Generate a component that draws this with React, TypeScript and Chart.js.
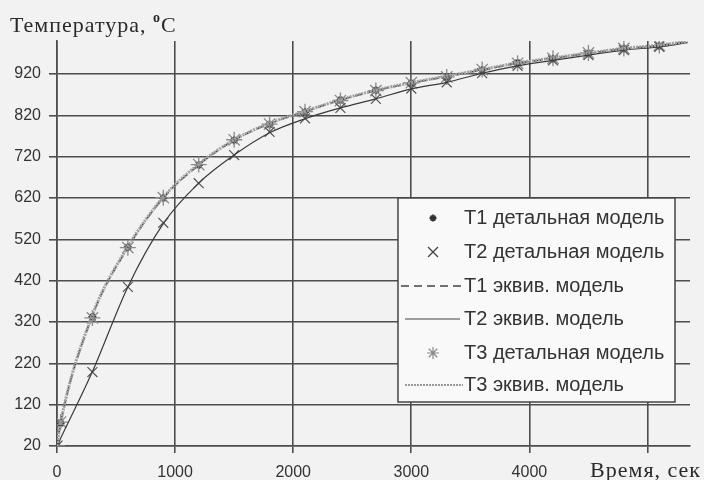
import React, { useEffect, useRef } from "react";
import { Chart, registerables } from "chart.js";

Chart.register(...registerables);

// ---- data ----
const timeEquiv = [0, 30, 300, 600, 900, 1200, 1500, 1800, 2100, 2400, 2700, 3000, 3300, 3600, 3900, 4200, 4500, 4800, 5100, 5340];
const t1Equiv = [20, 75, 335, 500, 620, 700, 760, 800, 829, 857, 880, 898, 914, 930, 946, 958, 970, 981, 989, 998];
const t2Equiv = [20, 38, 200, 405, 558, 656, 724, 778, 812, 838, 860, 884, 900, 922, 940, 953, 966, 978, 986, 996];
const t3Equiv = [20, 76, 337, 502, 622, 702, 761, 801, 830, 858, 881, 899, 915, 931, 947, 959, 971, 982, 990, 999];

const timeDetailed = [0, 30, 300, 600, 900, 1200, 1500, 1800, 2100, 2400, 2700, 3000, 3300, 3600, 3900, 4200, 4500, 4800, 5100];
const t1Detailed = [20, 75, 332, 501, 620, 700, 760, 798, 828, 857, 881, 898, 913, 930, 947, 957, 970, 982, 988];
const t3Detailed = [20, 78, 330, 500, 621, 701, 761, 799, 829, 856, 880, 899, 913, 931, 946, 958, 971, 982, 989];
const timeT2Detailed = [0, 300, 600, 900, 1200, 1500, 1800, 2100, 2400, 2700, 3000, 3300, 3600, 3900, 4200, 4500, 4800, 5100];
const t2Detailed = [20, 199, 405, 560, 656, 724, 780, 813, 838, 860, 885, 900, 922, 940, 953, 966, 978, 986];

const xTickValues = [0, 1000, 2000, 3000, 4000, 5000];
const yTickValues = [20, 120, 220, 320, 420, 520, 620, 720, 820, 920];

const legendLabels = [
  "Т1 детальная модель",
  "Т2 детальная модель",
  "Т1 эквив. модель",
  "Т2 эквив. модель",
  "Т3 детальная модель",
  "Т3 эквив. модель",
];
const yTitle = "Температура, ";
const xTitle = "Время, сек";

const pts = (xs: number[], ys: number[]) => xs.map((x, i) => ({ x, y: ys[i] }));

function drawStar(ctx: CanvasRenderingContext2D, x: number, y: number, r: number) {
  ctx.beginPath();
  for (let k = 0; k < 4; k++) {
    const a = (k * Math.PI) / 4;
    ctx.moveTo(x - r * Math.cos(a), y - r * Math.sin(a));
    ctx.lineTo(x + r * Math.cos(a), y + r * Math.sin(a));
  }
  ctx.stroke();
}
function drawCross(ctx: CanvasRenderingContext2D, x: number, y: number, r: number) {
  ctx.beginPath();
  ctx.moveTo(x - r, y - r);
  ctx.lineTo(x + r, y + r);
  ctx.moveTo(x - r, y + r);
  ctx.lineTo(x + r, y - r);
  ctx.stroke();
}

const decorPlugin = {
  id: "decor",
  beforeDraw(chart: any) {
    const ctx = chart.ctx;
    ctx.save();
    ctx.fillStyle = "#f2f2f2";
    ctx.fillRect(0, 0, chart.width, chart.height);
    ctx.restore();
  },
  afterDraw(chart: any) {
    const ctx: any = chart.ctx;
    ctx.save();
    // titles
    ctx.fillStyle = "#2a2a2a";
    ctx.textBaseline = "alphabetic";
    ctx.letterSpacing = "1px";
    ctx.font = "22px 'Liberation Serif'";
    ctx.fillText(yTitle, 10, 32);
    const w = ctx.measureText(yTitle).width;
    ctx.font = "bold 14px 'Liberation Serif'";
    ctx.fillText("o", 10 + w, 22);
    const w2 = ctx.measureText("o").width;
    ctx.font = "22px 'Liberation Serif'";
    ctx.fillText("C", 10 + w + w2, 32);
    ctx.textAlign = "right";
    ctx.fillText(xTitle, 701, 477);
    ctx.letterSpacing = "0px";

    // legend box
    const bx = 398, by = 198, bw = 277, bh = 204;
    ctx.fillStyle = "#f9f9f9";
    ctx.fillRect(bx, by, bw, bh);
    ctx.strokeStyle = "#444";
    ctx.lineWidth = 1.5;
    ctx.strokeRect(bx, by, bw, bh);

    const rows = [218, 252, 286, 319, 353, 385];
    ctx.textAlign = "left";
    ctx.textBaseline = "middle";
    ctx.font = "20px 'Liberation Sans'";
    ctx.fillStyle = "#333";
    legendLabels.forEach((t, i) => ctx.fillText(t, 464, rows[i]));

    const mx = 433;
    ctx.strokeStyle = "#333";
    ctx.lineWidth = 1.8;
    drawStar(ctx, mx, rows[0], 3.5);
    ctx.strokeStyle = "#444";
    ctx.lineWidth = 1.3;
    drawCross(ctx, mx, rows[1], 5);
    ctx.setLineDash([8, 5]);
    ctx.lineWidth = 1.6;
    ctx.beginPath();
    ctx.moveTo(401, rows[2]);
    ctx.lineTo(462, rows[2]);
    ctx.stroke();
    ctx.setLineDash([]);
    ctx.lineWidth = 1.2;
    ctx.beginPath();
    ctx.moveTo(405, rows[3]);
    ctx.lineTo(460, rows[3]);
    ctx.stroke();
    ctx.strokeStyle = "#8a8a8a";
    ctx.lineWidth = 1.2;
    drawStar(ctx, mx, rows[4], 6);
    ctx.strokeStyle = "#9a9a9a";
    ctx.lineWidth = 2.2;
    ctx.setLineDash([2, 1]);
    ctx.beginPath();
    ctx.moveTo(405, rows[5]);
    ctx.lineTo(463, rows[5]);
    ctx.stroke();
    ctx.restore();
  },
};

export default function App() {
  const ref = useRef<HTMLCanvasElement>(null);
  useEffect(() => {
    if (!ref.current) return;
    const chart = new Chart(ref.current, {
      type: "scatter",
      data: {
        datasets: [
          {
            label: legendLabels[5],
            data: pts(timeEquiv, t3Equiv),
            showLine: true,
            borderColor: "#a0a0a0",
            borderWidth: 3,
            borderDash: [2, 1],
            pointRadius: 0,
            cubicInterpolationMode: "monotone",
          },
          {
            label: legendLabels[2],
            data: pts(timeEquiv, t1Equiv),
            showLine: true,
            borderColor: "#444",
            borderWidth: 1.6,
            borderDash: [8, 5],
            pointRadius: 0,
            cubicInterpolationMode: "monotone",
          },
          {
            label: legendLabels[3],
            data: pts(timeEquiv, t2Equiv),
            showLine: true,
            borderColor: "#3a3a3a",
            borderWidth: 1.2,
            pointRadius: 0,
            cubicInterpolationMode: "monotone",
          },
          {
            label: legendLabels[1],
            data: pts(timeT2Detailed, t2Detailed),
            showLine: false,
            pointStyle: "crossRot",
            pointRadius: 7,
            pointBorderColor: "#555",
            pointBorderWidth: 1.2,
          },
          {
            label: legendLabels[4],
            data: pts(timeDetailed, t3Detailed),
            showLine: false,
            pointStyle: "star",
            pointRadius: 8,
            pointBorderColor: "#8a8a8a",
            pointBorderWidth: 1.3,
          },
          {
            label: legendLabels[0],
            data: pts(timeDetailed, t1Detailed),
            showLine: false,
            pointStyle: "star",
            pointRadius: 4,
            pointBorderColor: "#333",
            pointBorderWidth: 2,
          },
        ],
      },
      options: {
        animation: false,
        responsive: false,
        events: [],
        layout: { padding: { left: 0, right: 14, top: 41, bottom: 0 } },
        plugins: { legend: { display: false }, tooltip: { enabled: false } },
        scales: {
          x: {
            type: "linear",
            min: 0,
            max: 5360,
            afterBuildTicks: (s: any) => {
              s.ticks = xTickValues.map((v) => ({ value: v }));
            },
            afterFit: (s: any) => {
              s.height = 34;
            },
            ticks: {
              autoSkip: false,
              maxRotation: 0,
              color: "#333",
              padding: 10,
              font: { family: "'Liberation Sans'", size: 16 },
              callback: (v: any) => (v === 5000 ? "" : String(v)),
            },
            grid: { color: "#4d4d4d", lineWidth: 1.6, tickLength: 7 },
            border: { color: "#4d4d4d", width: 1.6 },
          },
          y: {
            type: "linear",
            min: 20,
            max: 1000,
            afterBuildTicks: (s: any) => {
              s.ticks = yTickValues.map((v) => ({ value: v }));
            },
            afterFit: (s: any) => {
              s.width = 57;
            },
            ticks: {
              autoSkip: false,
              color: "#333",
              padding: 8,
              font: { family: "'Liberation Sans'", size: 16 },
            },
            grid: { color: "#4d4d4d", lineWidth: 1.6, tickLength: 8 },
            border: { color: "#4d4d4d", width: 1.6 },
          },
        },
      },
      plugins: [decorPlugin],
    });
    return () => chart.destroy();
  }, []);
  return (
    <div style={{ position: "fixed", left: 0, top: 0, width: 704, height: 480 }}>
      <canvas ref={ref} width={704} height={480} style={{ display: "block" }} />
    </div>
  );
}
